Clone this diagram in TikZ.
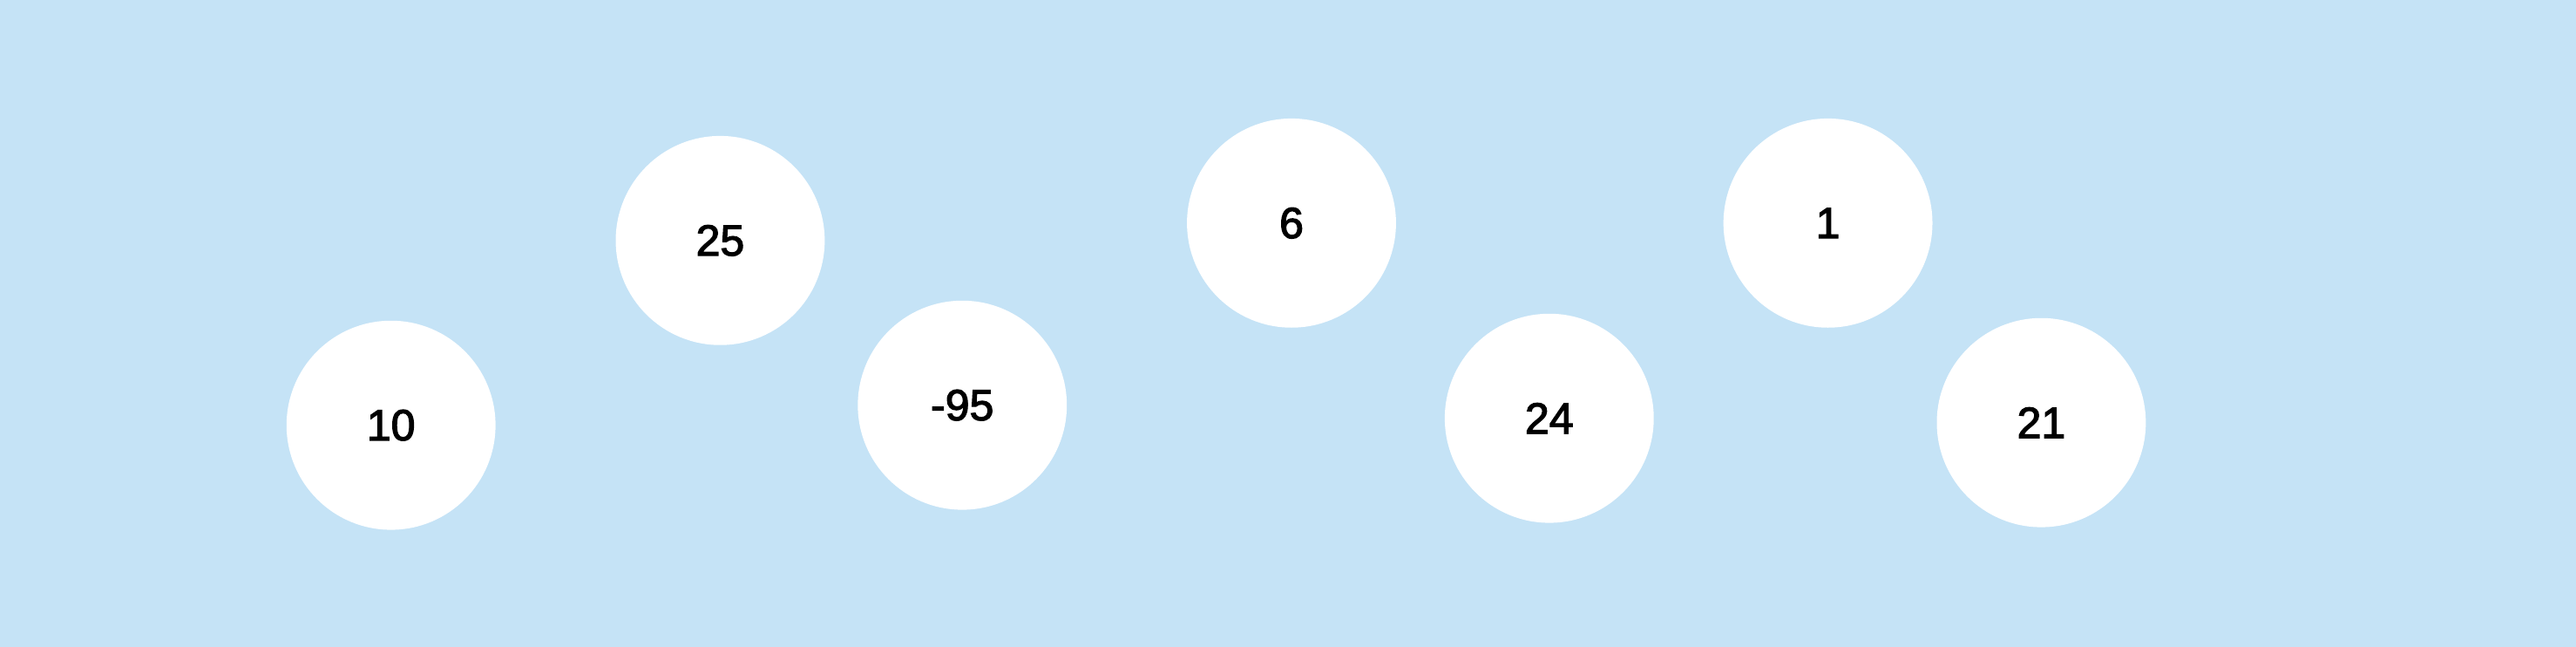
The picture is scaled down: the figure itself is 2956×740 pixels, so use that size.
\documentclass[tikz,border=0pt]{standalone}
\usepackage{fontspec}
\setmainfont{Liberation Sans}
\newfontfamily\ballfont{Liberation Sans}[FakeBold=2.5]
\usetikzlibrary{positioning}
\definecolor{skyblue}{HTML}{C5E3F6}

\begin{document}
\begin{tikzpicture}[x=1pt, y=-1pt, ball/.style={circle, fill=white, minimum size=240pt, inner sep=0pt, font=\ballfont\fontsize{50}{60}\selectfont}]
\fill[skyblue] (-1,-1) rectangle (2957,741);
\useasboundingbox (0,0) rectangle (2956,740);
\node [ball] (ten) at (448,487) {10};
\node [ball] (twentyfive) at (826,275) {25};
\node [ball] (minus) at (1104,464) {-95};
\node [ball] (six) at (1482,255) {6};
\node [ball] (twentyfour) at (1778,479) {24};
\node [ball] (one) at (2098,255) {1};
\node [ball] (twentyone) at (2343,484) {21};
\end{tikzpicture}
\end{document}
